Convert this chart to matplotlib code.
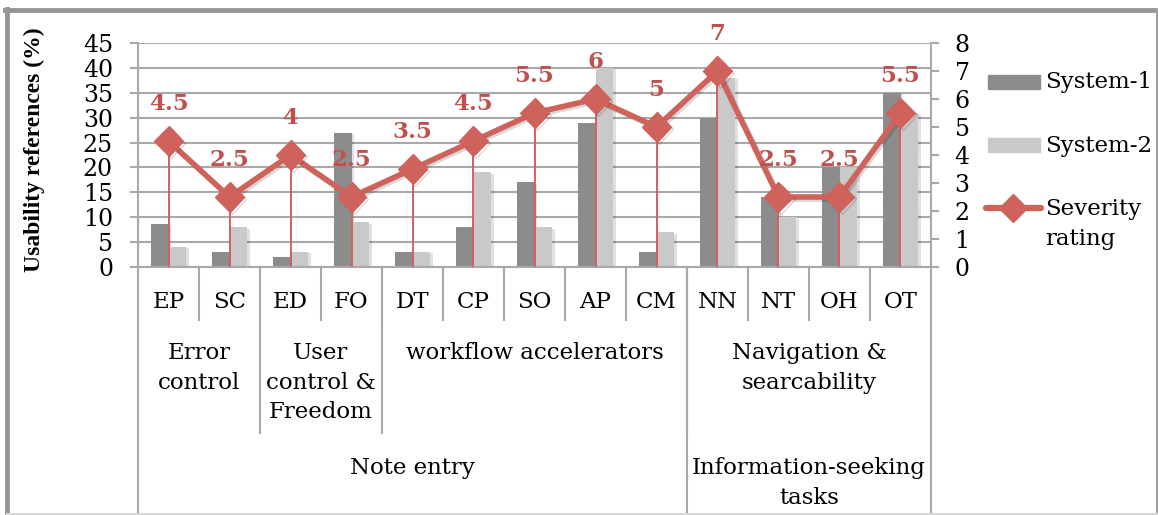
import matplotlib
matplotlib.use('Agg')
import matplotlib.pyplot as plt
import matplotlib.transforms as mtransforms
import matplotlib.patheffects as pe
from matplotlib.lines import Line2D
from matplotlib.patches import Rectangle
import numpy as np

tasks = ['EP', 'SC', 'ED', 'FO', 'DT', 'CP', 'SO', 'AP', 'CM', 'NN', 'NT', 'OH', 'OT']
system1 = [8.6, 3, 2, 27, 3, 8, 17, 29, 3, 30, 14, 20, 35]
system2 = [4, 8, 3, 9, 3, 19, 8, 40, 7, 38, 10, 20, 31]
severity = [4.5, 2.5, 4, 2.5, 3.5, 4.5, 5.5, 6, 5, 7, 2.5, 2.5, 5.5]

# (label, first task index, last task index)
heuristics = [('Error\ncontrol', 0, 1),
              ('User\ncontrol &\nFreedom', 2, 3),
              ('workflow accelerators', 4, 8),
              ('Navigation &\nsearcability', 9, 12)]
contexts = [('Note entry', 0, 8),
            ('Information-seeking\ntasks', 9, 12)]

DARK = '#8c8c8c'
LIGHT = '#c9c9c9'
RED = '#cf625b'
RED_TXT = '#c0504d'
GRID = '#a9a9a9'
FS = 16.5

plt.rcParams['font.family'] = ['DejaVu Serif']

W, H = 1158, 515
fig = plt.figure(figsize=(W / 100, H / 100), dpi=100)


def fy(py):
    return 1 - py / H


ax = fig.add_axes([138 / W, fy(267), (931 - 138) / W, (267 - 43) / H])
x = np.arange(len(tasks))
bw = 0.285
shadow = [pe.SimplePatchShadow(offset=(2, -1), shadow_rgbFace='#000000', alpha=0.12),
          pe.Normal()]
ax.bar(x - bw / 2, system1, bw, color=DARK, zorder=2, path_effects=shadow)
ax.bar(x + bw / 2, system2, bw, color=LIGHT, zorder=2, path_effects=shadow)
ax.set_xlim(-0.5, len(tasks) - 0.5)
ax.set_ylim(0, 45)
ax.set_yticks(np.arange(0, 46, 5))
ax.yaxis.grid(True, color=GRID, lw=1.5)
ax.set_axisbelow(True)
ax.set_xticks([])
ax.tick_params(axis='y', direction='out', length=6, width=1.5, color=GRID,
               labelsize=17, pad=12)
for s in ['top', 'right']:
    ax.spines[s].set_visible(False)
for s in ['left', 'bottom']:
    ax.spines[s].set_color(GRID)
    ax.spines[s].set_linewidth(1.5)

ax2 = ax.twinx()
ax2.set_ylim(0, 8)
ax2.set_yticks(range(0, 9))
ax2.vlines(x, 0, severity, color=RED, lw=1.4, zorder=3)
ax2.plot(x, severity, color=RED, lw=4, marker='D', ms=15, zorder=4,
         path_effects=[pe.SimpleLineShadow(offset=(1.5, -1.5), alpha=0.15), pe.Normal()])
for xi, v in zip(x, severity):
    ax2.annotate(f'{v:g}', (xi, v), xytext=(0, 27), textcoords='offset points',
                 ha='center', va='center', color=RED_TXT, fontsize=FS,
                 fontweight='bold', zorder=5)
ax2.tick_params(axis='y', direction='out', length=6, width=1.5, color=GRID,
                labelsize=17, pad=11)
for s in ['top', 'left', 'bottom']:
    ax2.spines[s].set_visible(False)
ax2.spines['right'].set_color(GRID)
ax2.spines['right'].set_linewidth(1.5)

fig.text(34 / W, fy(150), 'Usability references (%)', rotation=90,
         ha='center', va='center', fontsize=17, fontweight='bold',
         family='Liberation Serif')

# multi-level category table under the plot
tr = mtransforms.blended_transform_factory(ax.transData, fig.transFigure)


def vline(xd, y0, y1):
    fig.add_artist(Line2D([xd, xd], [fy(y0), fy(y1)], transform=tr,
                          color=GRID, lw=1.5))


for xi, t in zip(x, tasks):
    fig.text(xi, fy(302), t, transform=tr, ha='center', va='center', fontsize=FS)
for k in range(len(tasks) - 1):
    vline(k + 0.5, 267, 320)
for label, a, b in heuristics:
    fig.text((a + b) / 2, fy(342), label, transform=tr, ha='center', va='top',
             fontsize=FS, linespacing=1.45)
    if b < len(tasks) - 1:
        vline(b + 0.5, 267, 433)
for label, a, b in contexts:
    fig.text((a + b) / 2, fy(457), label, transform=tr, ha='center', va='top',
             fontsize=FS, linespacing=1.45)
    if b < len(tasks) - 1:
        vline(b + 0.5, 267, 513)
vline(-0.5, 267, 513)
vline(len(tasks) - 0.5, 267, 513)

# legend
fig.add_artist(Rectangle((988 / W, fy(89)), 52 / W, 14 / H, color=DARK,
                         transform=fig.transFigure))
fig.add_artist(Rectangle((988 / W, fy(152)), 52 / W, 14 / H, color=LIGHT,
                         transform=fig.transFigure))
fig.add_artist(Line2D([986 / W, 1041 / W], [fy(208), fy(208)], color=RED, lw=4.5,
                      solid_capstyle='round'))
fig.add_artist(Line2D([1013 / W], [fy(208)], color=RED, marker='D', ms=14, lw=0))
fig.text(1045 / W, fy(82), 'System-1', ha='left', va='center', fontsize=FS)
fig.text(1045 / W, fy(146), 'System-2', ha='left', va='center', fontsize=FS)
fig.text(1045 / W, fy(198), 'Severity\nrating', ha='left', va='top',
         fontsize=FS, linespacing=1.45)

# chart frame
fig.add_artist(Line2D([7 / W, 7 / W], [fy(9), fy(513)], color='#969696', lw=3.5))
fig.add_artist(Line2D([5 / W, 1157 / W], [fy(10), fy(10)], color='#969696', lw=3.5))
fig.add_artist(Line2D([1156.5 / W, 1156.5 / W], [fy(10), fy(513)], color='#a0a0a0', lw=1.5))
fig.add_artist(Line2D([7 / W, 1157 / W], [fy(513.5), fy(513.5)], color='#d9d9d9', lw=1.5))

fig.savefig('out.png', dpi=100)
